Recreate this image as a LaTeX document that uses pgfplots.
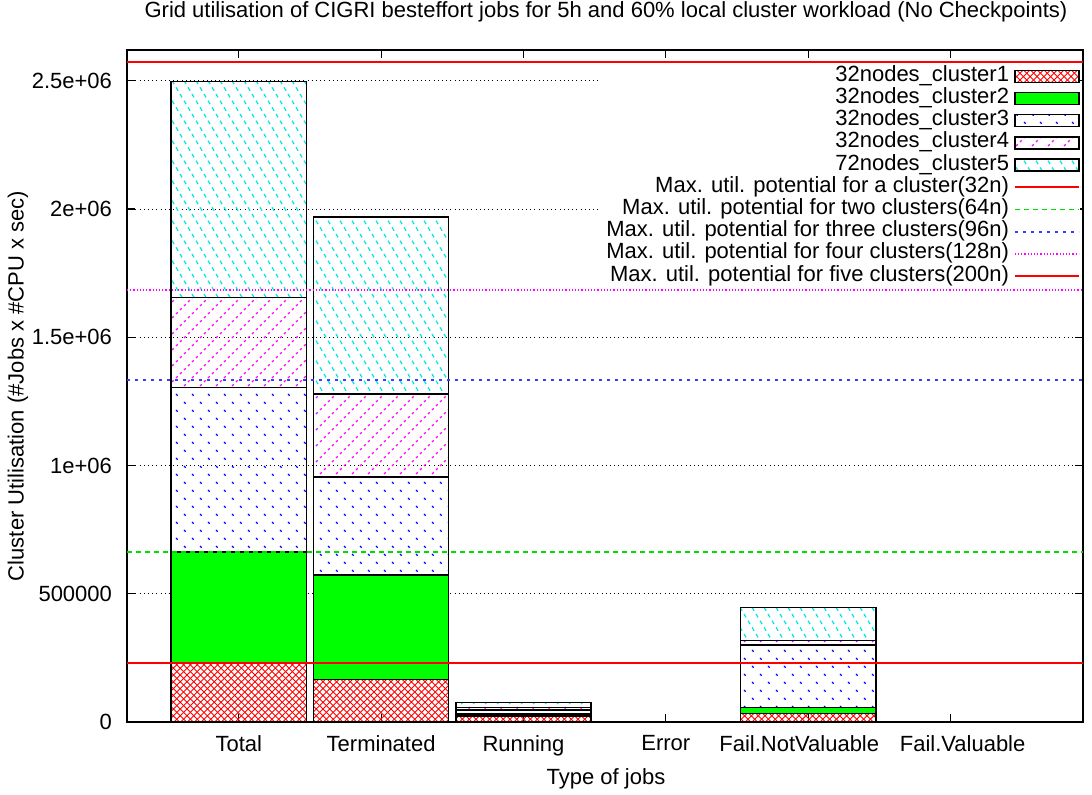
\documentclass[border=0pt]{standalone}
\usepackage{pgfplots}
\pgfplotsset{compat=1.18}
\usepackage{fontspec}
\setmainfont{Liberation Sans}
\usetikzlibrary{patterns}

\pgfdeclarepatternformonly{xhatch}{\pgfpoint{-0.5pt}{-0.5pt}}{\pgfpoint{3.9pt}{3.9pt}}{\pgfpoint{3.4pt}{3.4pt}}{%
  \pgfsetlinewidth{0.45pt}%
  \pgfpathmoveto{\pgfpoint{0pt}{0pt}}\pgfpathlineto{\pgfpoint{3.4pt}{3.4pt}}%
  \pgfpathmoveto{\pgfpoint{0pt}{3.4pt}}\pgfpathlineto{\pgfpoint{3.4pt}{0pt}}%
  \pgfusepath{stroke}}
\pgfdeclarepatternformonly{bluedash}{\pgfpoint{-0.5pt}{-0.5pt}}{\pgfpoint{8.5pt}{8.5pt}}{\pgfpoint{8pt}{8pt}}{%
  \pgfsetlinewidth{0.55pt}%
  \pgfsetdash{{1.2pt}{4.46pt}}{0pt}%
  \pgfpathmoveto{\pgfpoint{0pt}{8pt}}\pgfpathlineto{\pgfpoint{8pt}{0pt}}%
  \pgfusepath{stroke}}
\pgfdeclarepatternformonly{magdash}{\pgfpoint{-0.5pt}{-0.5pt}}{\pgfpoint{8.5pt}{8.5pt}}{\pgfpoint{8pt}{8pt}}{%
  \pgfsetlinewidth{0.55pt}%
  \pgfsetdash{{1.2pt}{1.63pt}}{0pt}%
  \pgfpathmoveto{\pgfpoint{0pt}{0pt}}\pgfpathlineto{\pgfpoint{8pt}{8pt}}%
  \pgfusepath{stroke}}
\pgfdeclarepatternformonly{cyandash}{\pgfpoint{-0.5pt}{-0.5pt}}{\pgfpoint{6.5pt}{10.5pt}}{\pgfpoint{6pt}{10pt}}{%
  \pgfsetlinewidth{0.6pt}%
  \pgfsetdash{{2pt}{1.89pt}}{0pt}%
  \pgfpathmoveto{\pgfpoint{0pt}{10pt}}\pgfpathlineto{\pgfpoint{6pt}{0pt}}%
  \pgfusepath{stroke}}

\definecolor{gnured}{RGB}{255,0,0}
\definecolor{gnugreen}{RGB}{0,255,0}
\definecolor{gnulgreen}{RGB}{0,220,0}
\definecolor{gnublue}{RGB}{0,0,255}
\definecolor{gnulblue}{RGB}{60,60,255}
\definecolor{gnumag}{RGB}{255,0,255}
\definecolor{gnucyan}{RGB}{0,230,230}

\pgfplotstableread{
x c1 c2 c3 c4 c5
0 230400 433000 640000 351000 842000
1 166500 407000 382000 324000 690000
2 23000 8000 15500 10500 19500
3 0 0 0 0 0
4 34000 23000 243000 17000 130000
5 0 0 0 0 0
}\bardata

\pgfplotsset{
  barleg/.style={legend image code/.code={\draw[##1,draw=black,line width=0.7pt] (0pt,-3pt) rectangle (32pt,3pt);}},
  lineleg/.style={legend image code/.code={\draw[##1] (0pt,0pt) -- (32pt,0pt);}},
}

\begin{document}
\begin{tikzpicture}
\useasboundingbox (-63.5pt,-36pt) rectangle (482.5pt,361pt);
\begin{axis}[
  at={(0,0)}, anchor=south west,
  scale only axis, width=478pt, height=336pt,
  font=\fontsize{11}{13}\selectfont,
  ybar stacked, bar width=0.95,
  xmin=-0.785, xmax=5.93, ymin=0, ymax=2.62e6,
  xtick={0,1,2,3,4,5},
  xticklabels={Total,Terminated,Running,Error,\hbox{\kern-9pt Fail.NotValuable},\hbox{Fail.Valuable\kern-12pt}},
  ytick={0,500000,1000000,1500000,2000000,2500000},
  yticklabels={0,500000,1e+06,1.5e+06,2e+06,2.5e+06},
  scaled y ticks=false,
  tick align=inside, major tick length=4pt,
  every tick/.style={black, line width=0.6pt},
  axis line style={black, line width=0.75pt},
  ymajorgrids, major grid style={black, line width=0.45pt, dash pattern=on 0.5pt off 1.6pt},
  xticklabel style={yshift=-3pt},
  yticklabel style={xshift=-4pt},
  title={Grid utilisation of CIGRI besteffort jobs for 5h and 60\% local cluster workload (No Checkpoints)},
  title style={at={(axis description cs:0.501,1.0565)}, anchor=center, yshift=-6pt, font=\fontsize{11}{13}\selectfont},
  xlabel={Type of jobs},
  xlabel style={at={(axis description cs:0.501,-0.085)}, anchor=center},
  ylabel={Cluster Utilisation (\#Jobs x \#CPU x sec)},
  ylabel style={at={(axis description cs:-0.114,0.5)}, anchor=center, rotate=0},
]
\addplot[draw=black, line width=0.7pt, pattern=xhatch, pattern color=gnured] table[x=x,y=c1] {\bardata};
\addplot[draw=black, line width=0.7pt, fill=gnugreen] table[x=x,y=c2] {\bardata};
\addplot[draw=black, line width=0.7pt, pattern=bluedash, pattern color=gnublue] table[x=x,y=c3] {\bardata};
\addplot[draw=black, line width=0.7pt, pattern=magdash, pattern color=gnumag] table[x=x,y=c4] {\bardata};
\addplot[draw=black, line width=0.7pt, pattern=cyandash, pattern color=gnucyan] table[x=x,y=c5] {\bardata};
\end{axis}
\begin{axis}[
  at={(0,0)}, anchor=south west,
  scale only axis, width=478pt, height=336pt,
  hide axis,
  xmin=-0.785, xmax=5.93, ymin=0, ymax=2.62e6,
  legend plot pos=right, legend cell align=right,
  legend style={at={(axis description cs:0.997,0.978)}, anchor=north east,
    fill=white, draw=none, inner sep=0pt, row sep=0pt,
    font=\fontsize{11}{13}\selectfont,
    nodes={inner xsep=2.5pt, inner ysep=0pt, text height=8.1pt, text depth=3pt}},
]
\addlegendimage{barleg, pattern=xhatch, pattern color=gnured}
\addlegendentry{32nodes\_cluster1}
\addlegendimage{barleg, fill=gnugreen}
\addlegendentry{32nodes\_cluster2}
\addlegendimage{barleg, pattern=bluedash, pattern color=gnublue}
\addlegendentry{32nodes\_cluster3}
\addlegendimage{barleg, pattern=magdash, pattern color=gnumag}
\addlegendentry{32nodes\_cluster4}
\addlegendimage{barleg, pattern=cyandash, pattern color=gnucyan}
\addlegendentry{72nodes\_cluster5}
\addplot[lineleg, color=gnured, line width=0.85pt] coordinates {(-0.785,230400) (5.93,230400)};
\addlegendentry{Max. util. potential for a cluster(32n)}
\addplot[lineleg, color=gnulgreen, line width=0.85pt, dash pattern=on 2.5pt off 2pt] coordinates {(-0.785,663000) (5.93,663000)};
\addlegendentry{Max. util. potential for two clusters(64n)}
\addplot[lineleg, color=gnulblue, line width=0.85pt, dash pattern=on 1.6pt off 2.4pt] coordinates {(-0.785,1334000) (5.93,1334000)};
\addlegendentry{Max. util. potential for three clusters(96n)}
\addplot[lineleg, color=gnumag, line width=0.8pt, dash pattern=on 0.6pt off 1pt] coordinates {(-0.785,1685000) (5.93,1685000)};
\addlegendentry{Max. util. potential for four clusters(128n)}
\addplot[lineleg, color=gnured, line width=0.85pt] coordinates {(-0.785,2574000) (5.93,2574000)};
\addlegendentry{Max. util. potential for five clusters(200n)}
\end{axis}
\end{tikzpicture}
\end{document}
